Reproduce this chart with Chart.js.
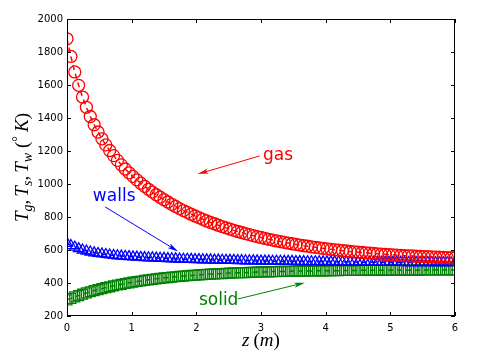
<!DOCTYPE html>
<html>
<head>
<meta charset="utf-8">
<script src="https://cdn.jsdelivr.net/npm/chart.js@4.4.0/dist/chart.umd.min.js"></script>
<style>
  html,body{margin:0;padding:0;background:#fff;}
  #wrap{width:485px;height:358px;}
</style>
</head>
<body>
<div id="wrap"><canvas id="c" width="485" height="358"></canvas></div>
<script>
// === data ===
const zPos = [0,0.06,0.12,0.18,0.24,0.3,0.36,0.42,0.48,0.54,0.6,0.66,0.72,0.78,0.84,0.9,0.96,1.02,1.08,1.14,
  1.2,1.26,1.32,1.38,1.44,1.5,1.56,1.62,1.68,1.74,1.8,1.86,1.92,1.98,2.04,2.1,2.16,2.22,2.28,2.34,
  2.4,2.46,2.52,2.58,2.64,2.7,2.76,2.82,2.88,2.94,3,3.06,3.12,3.18,3.24,3.3,3.36,3.42,3.48,3.54,
  3.6,3.66,3.72,3.78,3.84,3.9,3.96,4.02,4.08,4.14,4.2,4.26,4.32,4.38,4.44,4.5,4.56,4.62,4.68,4.74,
  4.8,4.86,4.92,4.98,5.04,5.1,5.16,5.22,5.28,5.34,5.4,5.46,5.52,5.58,5.64,5.7,5.76,5.82,5.88,5.94,6];
const gasT = [1880,1773,1679,1598,1527,1465,1409,1359,1315,1274,1237,1203,1172,1143,1116,1091,1068,1046,1025,1005,
  986,968,951,935,920,905,891,877,864,851,839,828,817,806,796,786,776,767,759,750,
  742,734,727,719,712,706,699,693,687,681,676,670,665,660,655,651,646,642,638,634,
  630,626,623,619,616,613,610,607,604,601,599,596,594,591,589,587,585,583,581,579,
  577,575,574,572,571,569,568,566,565,564,562,561,560,559,558,557,556,555,554,553,552];
const wallT = [640,627,617,608,600,594,588,583,579,576,573,570,567,565,563,561,560,558,557,555,
  554,553,552,551,550,549,548,547,546,545,544,544,543,542,542,541,540,540,539,539,
  538,538,537,537,536,536,535,535,534,534,533,533,533,532,532,532,531,531,531,530,
  530,530,529,529,529,529,528,528,528,528,527,527,527,527,527,526,526,526,526,526,
  525,525,525,525,525,525,525,524,524,524,524,524,524,524,524,523,523,523,523,523,523];
const solidT = [298,307,316,324,332,340,347,354,360,366,372,377,383,388,392,397,401,405,409,412,
  416,419,422,425,428,431,433,436,438,440,442,444,446,447,449,451,452,454,455,456,
  457,459,460,461,462,463,463,464,465,466,467,467,468,469,469,470,470,471,471,472,
  472,472,473,473,474,474,474,474,475,475,475,476,476,476,476,476,477,477,477,477,
  477,477,477,478,478,478,478,478,478,478,478,478,479,479,479,479,479,479,479,479,479];
const xTicks = [0,1,2,3,4,5,6];
const yTicks = [200,400,600,800,1000,1200,1400,1600,1800,2000];

// labels with arrows, in data units
const notes = [
  {text:"gas",   color:"#ff0000", at:[3.03,1145], from:[2.98,1170], to:[2.02,1060]},
  {text:"walls", color:"#0000ff", at:[0.40,894],  from:[0.59,861],  to:[1.72,591]},
  {text:"solid", color:"#008000", at:[2.04,267],  from:[2.64,303],  to:[3.68,402]}
];

const pts = arr => arr.map((v,i)=>({x:zPos[i], y:v}));
function series(data, color, style, r){
  return {data:pts(data), borderColor:color, borderWidth:1.5, borderDash:[5,4],
    pointStyle:style, pointRadius:r, pointBorderColor:color, pointBorderWidth:1.3,
    pointBackgroundColor:"rgba(0,0,0,0)", pointHoverRadius:r, tension:0, fill:false};
}

// === frame, ticks, titles, notes ===
const SERIF = "'Liberation Serif', 'DejaVu Serif', serif";
function mathRun(ctx, parts, x, y, size){
  // parts: [text, italic, shift(+down), scale, extra gap after]
  const fontOf = p => `${p[1]?"italic ":""}${Math.round(size*(p[3]||1))}px ${SERIF}`;
  let w = 0;
  parts.forEach(p=>{ ctx.font = fontOf(p); w += ctx.measureText(p[0]).width + (p[4]||0); });
  let cx = x - w/2;
  parts.forEach(p=>{
    ctx.font = fontOf(p);
    ctx.fillText(p[0], cx, y + (p[2]||0));
    cx += ctx.measureText(p[0]).width + (p[4]||0);
  });
}
function arrow(ctx, x0,y0,x1,y1, color){
  const a = Math.atan2(y1-y0, x1-x0), L = 11, W = 2.6;
  ctx.strokeStyle = color; ctx.fillStyle = color; ctx.lineWidth = 1;
  ctx.beginPath(); ctx.moveTo(x0,y0); ctx.lineTo(x1 - Math.cos(a)*L*0.6, y1 - Math.sin(a)*L*0.6); ctx.stroke();
  ctx.beginPath();
  ctx.moveTo(x1,y1);
  ctx.lineTo(x1 - Math.cos(a)*L - Math.sin(a)*W, y1 - Math.sin(a)*L + Math.cos(a)*W);
  ctx.lineTo(x1 - Math.cos(a)*L*0.75, y1 - Math.sin(a)*L*0.75);
  ctx.lineTo(x1 - Math.cos(a)*L + Math.sin(a)*W, y1 - Math.sin(a)*L - Math.cos(a)*W);
  ctx.closePath(); ctx.fill();
}

const frame = {
  id:"frame",
  afterDatasetsDraw(chart){
    const {ctx, chartArea:a, scales:{x, y}} = chart;
    ctx.save();
    ctx.strokeStyle = "#000"; ctx.lineWidth = 1;
    ctx.strokeRect(a.left+0.5, a.top+0.5, a.right-a.left-1, a.bottom-a.top-1);
    ctx.beginPath();
    xTicks.forEach(v=>{
      const px = Math.round(x.getPixelForValue(v))+0.5;
      ctx.moveTo(px, a.bottom); ctx.lineTo(px, a.bottom-4);
      ctx.moveTo(px, a.top); ctx.lineTo(px, a.top+4);
    });
    yTicks.forEach(v=>{
      const py = Math.round(y.getPixelForValue(v))+0.5;
      ctx.moveTo(a.left, py); ctx.lineTo(a.left+4, py);
      ctx.moveTo(a.right, py); ctx.lineTo(a.right-4, py);
    });
    ctx.stroke();

    // notes
    notes.forEach(n=>{
      ctx.fillStyle = n.color;
      ctx.font = "17px 'DejaVu Sans', sans-serif";
      ctx.textAlign = "left"; ctx.textBaseline = "alphabetic";
      ctx.fillText(n.text, x.getPixelForValue(n.at[0]), y.getPixelForValue(n.at[1]));
      arrow(ctx, x.getPixelForValue(n.from[0]), y.getPixelForValue(n.from[1]),
                 x.getPixelForValue(n.to[0]), y.getPixelForValue(n.to[1]), n.color);
    });

    // axis titles
    ctx.fillStyle = "#000"; ctx.textAlign = "left"; ctx.textBaseline = "alphabetic";
    mathRun(ctx, [["z",true,0,1,4],["(",false],["m",true],[")",false]], (a.left+a.right)/2, 346, 19);
    ctx.save();
    ctx.translate(28, (a.top+a.bottom)/2);
    ctx.rotate(-Math.PI/2);
    mathRun(ctx, [
      ["T",true],["g",true,4,0.72],[",",false,0,1,3],
      ["T",true],["s",true,4,0.72],[",",false,0,1,3],
      ["T",true],["w",true,4,0.72,5],["(",false],
      ["\u00b0",false,-6,0.75,4],["K",true],[")",false]
    ], 0, 0, 19);
    ctx.restore();
    ctx.restore();
  }
};

new Chart(document.getElementById("c"), {
  type:"line",
  data:{datasets:[
    series(gasT,   "#ff0000", "circle",   6),
    series(wallT,  "#0000ff", "triangle", 6),
    series(solidT, "#008000", "rect",     7)
  ]},
  options:{
    responsive:false, animation:false, devicePixelRatio:1,
    layout:{padding:{left:0, right:30, top:19, bottom:0}},
    plugins:{legend:{display:false}, tooltip:{enabled:false}},
    events:[],
    scales:{
      x:{type:"linear", min:0, max:6,
        afterBuildTicks: s => { s.ticks = xTicks.map(v=>({value:v})); },
        afterFit: s => { s.height = 42; },
        grid:{display:false, drawTicks:false}, border:{display:false},
        ticks:{color:"#000", padding:6, maxRotation:0, callback: v => String(v),
          font:{family:"'DejaVu Sans', sans-serif", size:10}}},
      y:{type:"linear", min:200, max:2000,
        afterBuildTicks: s => { s.ticks = yTicks.map(v=>({value:v})); },
        afterFit: s => { s.width = 67; },
        grid:{display:false, drawTicks:false}, border:{display:false},
        ticks:{color:"#000", padding:4, callback: v => String(v),
          font:{family:"'DejaVu Sans', sans-serif", size:10}}}
    }
  },
  plugins:[frame]
});
</script>
</body>
</html>
